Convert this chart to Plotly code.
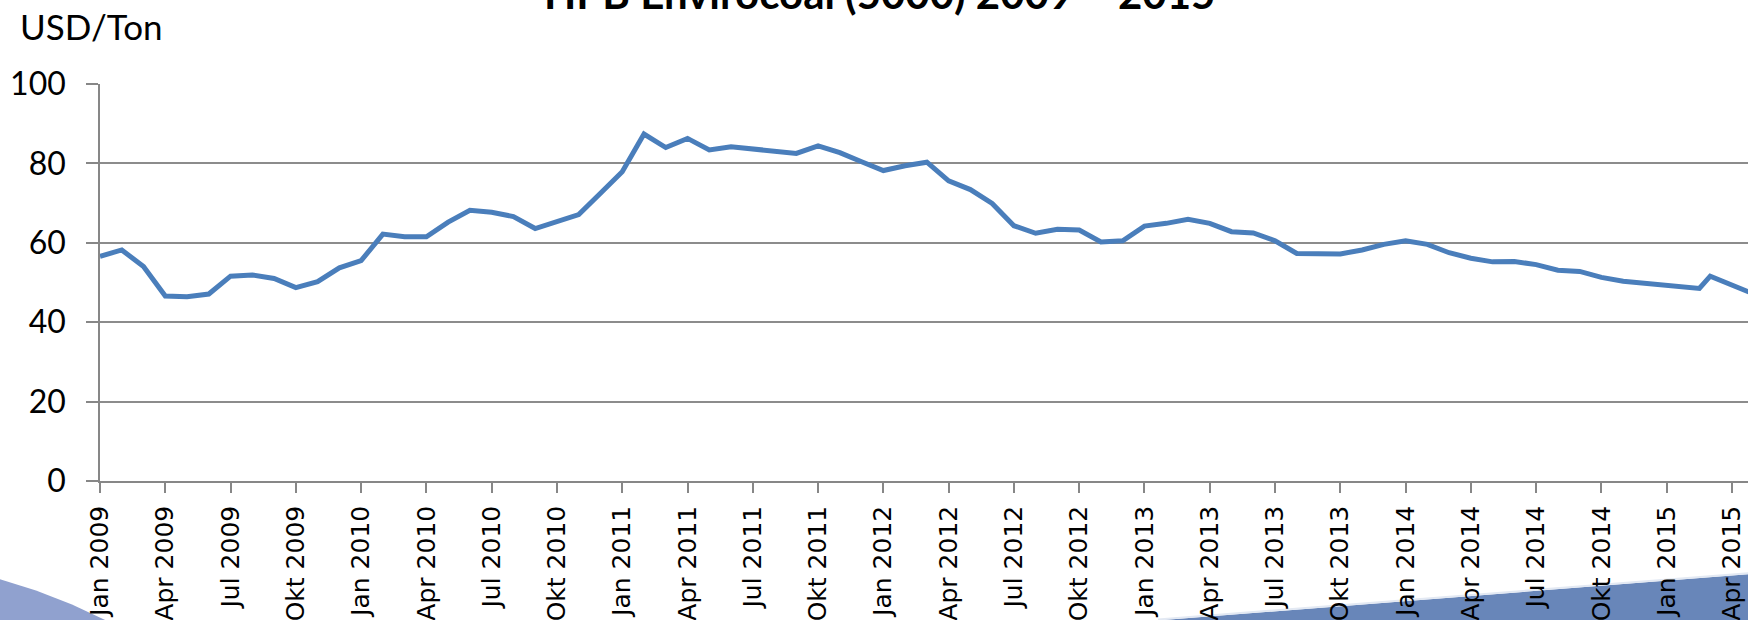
import calendar
import plotly.graph_objects as go

# ---------------- data ----------------
dates = [
    "2009-01-01", "2009-02-01", "2009-03-01", "2009-04-01", "2009-05-01", "2009-06-01",
    "2009-07-01", "2009-08-01", "2009-09-01", "2009-10-01", "2009-11-01", "2009-12-01",
    "2010-01-01", "2010-02-01", "2010-03-01", "2010-04-01", "2010-05-01", "2010-06-01",
    "2010-07-01", "2010-08-01", "2010-09-01", "2010-10-01", "2010-11-01", "2010-12-01",
    "2011-01-01", "2011-02-01", "2011-03-01", "2011-04-01", "2011-05-01", "2011-06-01",
    "2011-07-01", "2011-08-01", "2011-09-01", "2011-10-01", "2011-11-01", "2011-12-01",
    "2012-01-01", "2012-02-01", "2012-03-01", "2012-04-01", "2012-05-01", "2012-06-01",
    "2012-07-01", "2012-08-01", "2012-09-01", "2012-10-01", "2012-11-01", "2012-12-01",
    "2013-01-01", "2013-02-01", "2013-03-01", "2013-04-01", "2013-05-01", "2013-06-01",
    "2013-07-01", "2013-08-01", "2013-09-01", "2013-10-01", "2013-11-01", "2013-12-01",
    "2014-01-01", "2014-02-01", "2014-03-01", "2014-04-01", "2014-05-01", "2014-06-01",
    "2014-07-01", "2014-08-01", "2014-09-01", "2014-10-01", "2014-11-01", "2014-12-01",
    "2015-01-01", "2015-02-01", "2015-02-15", "2015-03-01", "2015-04-01", "2015-05-01",
]
price_usd_per_ton = [
    56.6, 58.2, 54.0, 46.6, 46.4, 47.1, 51.6, 51.9, 51.0, 48.7, 50.2, 53.7,
    55.5, 62.2, 61.5, 61.5, 65.2, 68.2, 67.7, 66.6, 63.6, 65.3, 67.1, 72.5,
    77.9, 87.4, 84.0, 86.3, 83.4, 84.2, 83.7, 83.1, 82.5, 84.4, 82.7, 80.4,
    78.2, 79.4, 80.3, 75.6, 73.4, 69.9, 64.3, 62.4, 63.4, 63.2, 60.2, 60.5,
    64.2, 64.9, 65.9, 64.9, 62.8, 62.5, 60.5, 57.3, 57.4, 57.2, 58.2, 59.6,
    60.5, 59.6, 57.5, 56.1, 55.2, 55.3, 54.5, 53.1, 52.8, 51.3, 50.3, 49.8,
    49.4, 48.9, 48.5, 51.6, 49.3, 47.1,
]
tick_labels = [
    "Jan 2009", "Apr 2009", "Jul 2009", "Okt 2009",
    "Jan 2010", "Apr 2010", "Jul 2010", "Okt 2010",
    "Jan 2011", "Apr 2011", "Jul 2011", "Okt 2011",
    "Jan 2012", "Apr 2012", "Jul 2012", "Okt 2012",
    "Jan 2013", "Apr 2013", "Jul 2013", "Okt 2013",
    "Jan 2014", "Apr 2014", "Jul 2014", "Okt 2014",
    "Jan 2015", "Apr 2015",
]
title_text = "HPB Envirocoal (5000) 2009 – 2015"
unit_text = "USD/Ton"


def month_index(s):
    y, m, d = (int(p) for p in s.split("-"))
    return (y - 2009) * 12 + (m - 1) + (d - 1) / calendar.monthrange(y, m)[1]


x_vals = [month_index(s) for s in dates]
tick_vals = [3 * i for i in range(len(tick_labels))]

# ---------------- layout geometry (pixels) ----------------
W, H = 1748, 620
L, T, B = 100, 84, 139.3
R = 0
plot_w = W - L - R
plot_h = H - T - B
x_max = plot_w / 21.76


def px(x):
    return (x - L) / plot_w


def py(y):
    return (H - B - y) / plot_h


fig = go.Figure()
fig.add_trace(go.Scatter(
    x=x_vals, y=price_usd_per_ton, mode="lines",
    line=dict(color="#4a7ebb", width=5),
    hoverinfo="skip", showlegend=False,
))

axis_grey = "#878787"
fig.update_layout(
    width=W, height=H,
    margin=dict(l=L, r=R, t=T, b=B, pad=0, autoexpand=False),
    paper_bgcolor="white", plot_bgcolor="white",
    xaxis=dict(
        range=[0, x_max], tickvals=tick_vals, ticktext=tick_labels,
        tickangle=-90, showgrid=False, zeroline=False, automargin=False,
        showline=True, linecolor=axis_grey, linewidth=1.6,
        ticks="outside", ticklen=10, tickwidth=1.6, tickcolor=axis_grey,
        tickfont=dict(family="DejaVu Sans", size=25, color="black"),
        ticklabelstandoff=3,
    ),
    yaxis=dict(
        range=[0, 100], dtick=20, tick0=0, showgrid=True, automargin=False,
        gridcolor="#8c8c8c", gridwidth=1.5, zeroline=False,
        showline=True, linecolor=axis_grey, linewidth=1.6,
        ticks="outside", ticklen=12, tickwidth=1.5, tickcolor=axis_grey,
        tickfont=dict(family="Lato", size=32, color="black"),
        ticklabelstandoff=14,
    ),
)

# title (cut by the top edge as in the reference) and unit label
fig.add_annotation(
    xref="paper", yref="paper", x=px(879), y=py(20),
    xanchor="center", yanchor="bottom", showarrow=False,
    text="<b>" + title_text + "</b>",
    font=dict(family="Lato", size=42, color="black"),
)
fig.add_annotation(
    xref="paper", yref="paper", x=px(18), y=py(49),
    xanchor="left", yanchor="bottom", showarrow=False,
    text=unit_text,
    font=dict(family="Lato", size=35, color="black"),
)

# slide background decorations
left_pts = [(0, 579), (36, 590), (72, 604), (106, 620), (0, 620)]
path_left = "M " + " L ".join(f"{px(a)},{py(b)}" for a, b in left_pts) + " Z"
fig.add_shape(type="path", xref="paper", yref="paper", path=path_left,
              fillcolor="#90a1cf", line=dict(width=0), layer="below")
right_pts = [(1158, 620), (1748, 574), (1748, 620)]
path_right = "M " + " L ".join(f"{px(a)},{py(b)}" for a, b in right_pts) + " Z"
fig.add_shape(type="path", xref="paper", yref="paper", path=path_right,
              fillcolor="#6886b9", line=dict(width=0), layer="below")
fig.add_shape(type="line", xref="paper", yref="paper",
              x0=px(1158), y0=py(619), x1=px(1748), y1=py(573),
              line=dict(color="#e3e9f3", width=2), layer="below")

fig.write_html(
    "out.html",
    config={"displayModeBar": False},
    post_script="document.body.style.margin='0';document.body.style.overflow='hidden';",
)
